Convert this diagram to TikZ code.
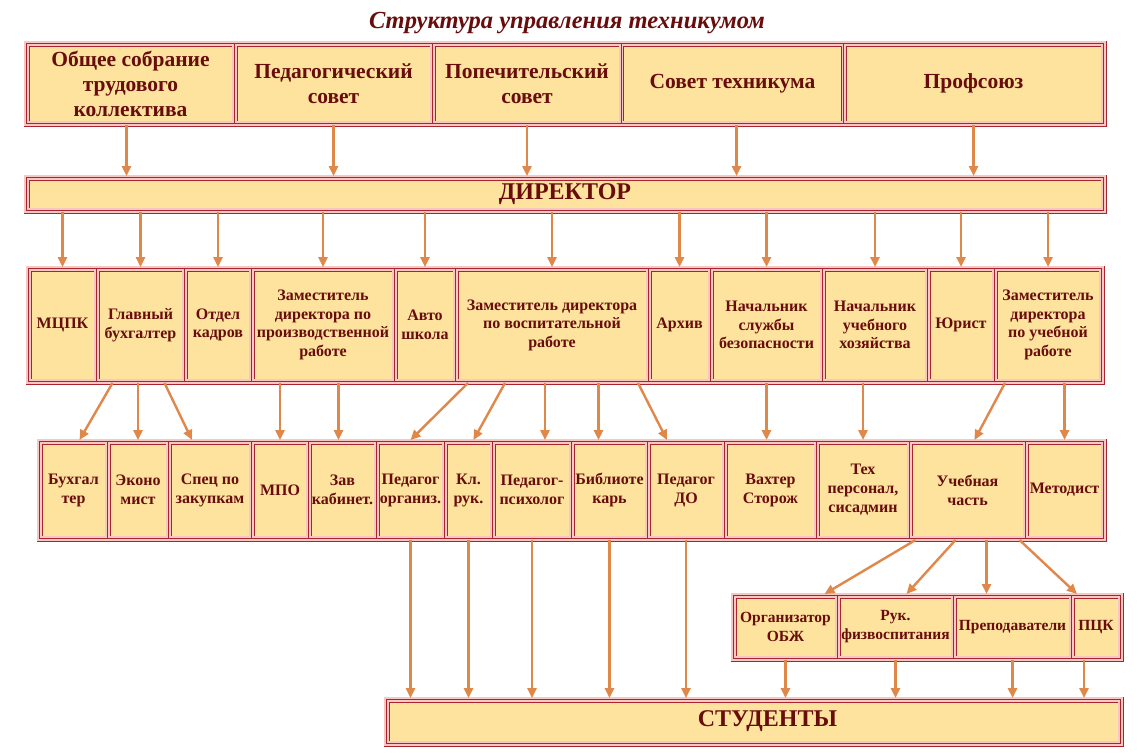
\documentclass[tikz,border=0pt]{standalone}
\usepackage{fontspec}
\setmainfont{Liberation Serif}
\usetikzlibrary{arrows.meta}
\definecolor{kletka}{RGB}{253,227,158}
\definecolor{bukvy}{RGB}{105,12,12}
\definecolor{krasn}{RGB}{170,35,45}
\definecolor{rozov}{RGB}{246,200,196}
\definecolor{oranzh}{RGB}{224,135,74}

\begin{document}
\begin{tikzpicture}[
    x=1pt, y=-1pt,
    every node/.style={align=center, inner sep=0pt, outer sep=0pt, text=bukvy},
    ramka/.style={draw=krasn, double=rozov, double distance=1.2pt, line width=0.9pt, fill=white},
    yach/.style={ramka, fill=kletka},
    verh/.style={yach, font=\bfseries\fontsize{21.5}{25}\selectfont},
    sred/.style={yach, font=\bfseries\fontsize{16}{18.5}\selectfont},
    niz/.style={yach, font=\bfseries\fontsize{16}{19}\selectfont},
    uch/.style={yach, font=\bfseries\fontsize{15.5}{19}\selectfont},
    strel/.style={->, draw=oranzh, line width=2.4pt, >={Triangle[length=10pt, width=9pt]}}
]
    \useasboundingbox (0,0) rectangle (1138,753);

    \node[font=\bfseries\itshape\fontsize{24.5}{28}\selectfont] (zagl) at (567,23) {Структура управления техникумом};

    % Органы управления
    \node[ramka, minimum width=1080pt, minimum height=83pt] (ramA) at (565,83.5) {};
    \node[verh, minimum width=205pt, minimum height=77pt] (sobr) at (130.5,83.5) {Общее собрание\\трудового\\коллектива};
    \node[verh, minimum width=195pt, minimum height=77pt] (pedsov) at (333.5,83.5) {Педагогический\\совет};
    \node[verh, minimum width=186pt, minimum height=77pt] (popech) at (527,83.5) {Попечительский\\совет};
    \node[verh, minimum width=220pt, minimum height=77pt] (sovet) at (732.5,83.5) {Совет техникума};
    \node[verh, minimum width=257pt, minimum height=77pt] (profs) at (973.5,83.5) {Профсоюз};

    \node[ramka, minimum width=1080pt, minimum height=36pt] (ramB) at (565,194) {};
    \node[yach, minimum width=1074pt, minimum height=30pt, font=\bfseries\fontsize{24}{28}\selectfont] (dirk) at (565,194) {ДИРЕКТОР};

    % Службы при директоре
    \node[ramka, minimum width=1076pt, minimum height=116pt] (ramV) at (565,325) {};
    \node[sred, minimum width=65pt, minimum height=110pt] (mcpk) at (62.5,325) {МЦПК};
    \node[sred, minimum width=85pt, minimum height=110pt] (glbuh) at (140.5,325) {Главный\\бухгалтер};
    \node[sred, minimum width=64pt, minimum height=110pt] (kadry) at (218,325) {Отдел\\кадров};
    \node[sred, minimum width=140pt, minimum height=110pt] (zampr) at (323,325) {Заместитель\\директора по\\производственной\\работе};
    \node[sred, minimum width=58pt, minimum height=110pt] (avto) at (425,325) {Авто\\школа};
    \node[sred, minimum width=190pt, minimum height=110pt] (zamvos) at (552,325) {Заместитель директора\\по воспитательной\\работе};
    \node[sred, minimum width=59pt, minimum height=110pt] (arhiv) at (679.5,325) {Архив};
    \node[sred, minimum width=109pt, minimum height=110pt] (bezop) at (766.5,325) {Начальник\\службы\\безопасности};
    \node[sred, minimum width=102pt, minimum height=110pt] (hozy) at (875,325) {Начальник\\учебного\\хозяйства};
    \node[sred, minimum width=64pt, minimum height=110pt] (yurist) at (961,325) {Юрист};
    \node[sred, minimum width=104pt, minimum height=110pt] (zamuch) at (1048,325) {Заместитель\\директора\\по учебной\\работе};

    % Исполнители
    \node[ramka, minimum width=1067pt, minimum height=100pt] (ramG) at (571.5,490) {};
    \node[niz, minimum width=65pt, minimum height=94pt] (buh) at (73.5,490) {Бухгал\\тер};
    \node[niz, minimum width=58pt, minimum height=94pt] (ekon) at (138,490) {Эконо\\мист};
    \node[niz, minimum width=80pt, minimum height=94pt] (zakup) at (210,490) {Спец по\\закупкам};
    \node[niz, minimum width=54pt, minimum height=94pt] (mpo) at (280,490) {МПО};
    \node[niz, minimum width=65pt, minimum height=94pt] (zavkab) at (342.5,490) {Зав\\кабинет.};
    \node[niz, minimum width=65pt, minimum height=94pt] (pedorg) at (410.5,490) {Педагог\\организ.};
    \node[niz, minimum width=45pt, minimum height=94pt] (klruk) at (468.5,490) {Кл.\\рук.};
    \node[niz, minimum width=76pt, minimum height=94pt] (psih) at (532,490) {Педагог-\\психолог};
    \node[niz, minimum width=73pt, minimum height=94pt] (bibl) at (609.5,490) {Библиоте\\карь};
    \node[niz, minimum width=74pt, minimum height=94pt] (peddo) at (686,490) {Педагог\\ДО};
    \node[niz, minimum width=89pt, minimum height=94pt] (vahter) at (770.5,490) {Вахтер\\Сторож};
    \node[niz, minimum width=90pt, minimum height=94pt] (tehp) at (863,490) {Тех\\персонал,\\сисадмин};
    \node[niz, minimum width=113pt, minimum height=94pt] (uchch) at (967.5,490) {Учебная\\часть};
    \node[niz, minimum width=75pt, minimum height=94pt] (metod) at (1064.5,490) {Методист};

    % Учебная часть
    \node[ramka, minimum width=390pt, minimum height=66pt] (ramD) at (927,627) {};
    \node[uch, minimum width=101pt, minimum height=60pt] (obzh) at (785.5,627) {Организатор\\ОБЖ};
    \node[uch, minimum width=113pt, minimum height=60pt] (fizv) at (895.5,627) {Рук.\\физвоспитания};
    \node[uch, minimum width=115pt, minimum height=60pt] (prepod) at (1012.5,627) {Преподаватели};
    \node[uch, minimum width=46pt, minimum height=60pt] (pck) at (1096,627) {ПЦК};

    \node[ramka, minimum width=737pt, minimum height=47pt] (ramS) at (753.5,721.5) {};
    \node[yach, minimum width=731pt, minimum height=41pt, font=\bfseries\fontsize{24}{28}\selectfont] (stud) at (753.5,721.5) {\hspace*{28pt}СТУДЕНТЫ};

    % Связи
    \draw[strel] ([xshift=-4pt]sobr.south |- ramA.south) -- ([xshift=-4pt]sobr.south |- ramB.north);
    \draw[strel] (pedsov.south |- ramA.south) -- (pedsov.south |- ramB.north);
    \draw[strel] (popech.south |- ramA.south) -- (popech.south |- ramB.north);
    \draw[strel] ([xshift=4pt]sovet.south |- ramA.south) -- ([xshift=4pt]sovet.south |- ramB.north);
    \draw[strel] (profs.south |- ramA.south) -- (profs.south |- ramB.north);

    \foreach \n in {mcpk, glbuh, kadry, zampr, avto, zamvos, arhiv, bezop, hozy, yurist, zamuch}
        \draw[strel] (\n.north |- ramB.south) -- (\n.north |- ramV.north);

    \draw[strel] ([xshift=-28pt]glbuh.south |- ramV.south) -- ([xshift=6pt]buh.north |- ramG.north);
    \draw[strel] (ekon.north |- ramV.south) -- (ekon.north |- ramG.north);
    \draw[strel] ([xshift=24pt]glbuh.south |- ramV.south) -- ([xshift=-18pt]zakup.north |- ramG.north);
    \draw[strel] (mpo.north |- ramV.south) -- (mpo.north |- ramG.north);
    \draw[strel] ([xshift=-4pt]zavkab.north |- ramV.south) -- ([xshift=-4pt]zavkab.north |- ramG.north);
    \draw[strel] ([xshift=-84pt]zamvos.south |- ramV.south) -- (pedorg.north |- ramG.north);
    \draw[strel] ([xshift=-47pt]zamvos.south |- ramV.south) -- ([xshift=5pt]klruk.north |- ramG.north);
    \draw[strel] ([xshift=13pt]psih.north |- ramV.south) -- ([xshift=13pt]psih.north |- ramG.north);
    \draw[strel] ([xshift=-11pt]bibl.north |- ramV.south) -- ([xshift=-11pt]bibl.north |- ramG.north);
    \draw[strel] ([xshift=86pt]zamvos.south |- ramV.south) -- ([xshift=-19pt]peddo.north |- ramG.north);
    \draw[strel] (bezop.south |- ramV.south) -- (bezop.south |- ramG.north);
    \draw[strel] (tehp.north |- ramV.south) -- (tehp.north |- ramG.north);
    \draw[strel] ([xshift=-43pt]zamuch.south |- ramV.south) -- ([xshift=7pt]uchch.north |- ramG.north);
    \draw[strel] (metod.north |- ramV.south) -- (metod.north |- ramG.north);

    \foreach \n in {pedorg, klruk, psih, bibl, peddo}
        \draw[strel] (\n.south |- ramG.south) -- (\n.south |- ramS.north);

    \draw[strel] ([xshift=-52pt]uchch.south |- ramG.south) -- ([xshift=39pt]obzh.north |- ramD.north);
    \draw[strel] ([xshift=-12pt]uchch.south |- ramG.south) -- ([xshift=11pt]fizv.north |- ramD.north);
    \draw[strel] ([xshift=19pt]uchch.south |- ramG.south) -- ([xshift=19pt]uchch.south |- ramD.north);
    \draw[strel] ([xshift=52pt]uchch.south |- ramG.south) -- ([xshift=-19pt]pck.north |- ramD.north);

    \foreach \n in {obzh, fizv, prepod}
        \draw[strel] (\n.south |- ramD.south) -- (\n.south |- ramS.north);
    \draw[strel] ([xshift=-12pt]pck.south |- ramD.south) -- ([xshift=-12pt]pck.south |- ramS.north);
\end{tikzpicture}
\end{document}
